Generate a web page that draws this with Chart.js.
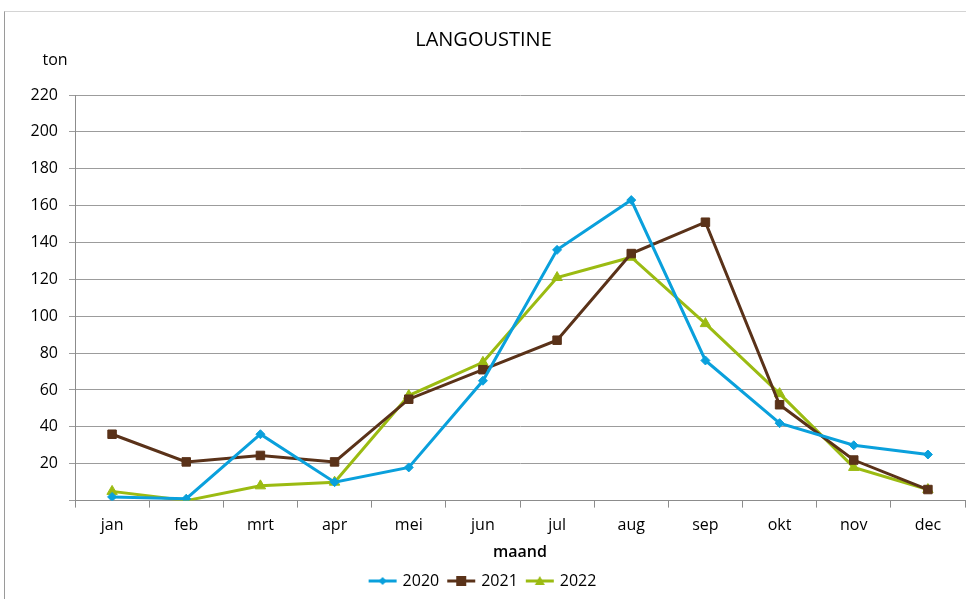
<!DOCTYPE html>
<html>
<head>
<meta charset="utf-8">
<script src="https://cdn.jsdelivr.net/npm/chart.js@4.4.0/dist/chart.umd.min.js"></script>
<style>
  html, body { margin: 0; padding: 0; background: #fff; overflow: hidden; }
  #kader { position: absolute; left: 4px; top: 11px; width: 1000px; height: 700px;
           border-left: 1px solid #9a9a9a; border-top: 1px solid #d4d4d4; }
  canvas { position: absolute; left: 0; top: 0; }
</style>
</head>
<body>
<div id="kader"></div>
<canvas id="grafiek" width="972" height="599"></canvas>
<script>
const maanden = ['jan', 'feb', 'mrt', 'apr', 'mei', 'jun', 'jul', 'aug', 'sep', 'okt', 'nov', 'dec'];
const jaren = ['2020', '2021', '2022'];
const ton2020 = [2, 1, 36, 10, 18, 65, 136, 163, 76, 42, 30, 25];
const ton2021 = [36, 21, 24.5, 21, 55, 71, 87, 134, 151, 52, 22, 6];
const ton2022 = [5, 0, 8, 10, 57, 75, 121, 132, 96, 58, 18, 6];
const yTicks = [0, 20, 40, 60, 80, 100, 120, 140, 160, 180, 200, 220];

const kleuren = ['#0aa0dc', '#5a3219', '#9bbb12'];
const vormen = ['rectRot', 'rect', 'triangle'];
const radii = [4.5, 6, 6];
const FONT = '"Open Sans", "Noto Sans", sans-serif';

// legend icon: line with marker in the middle
function legendIcoon(kleur, vorm) {
  const c = document.createElement('canvas');
  c.width = 30; c.height = 14;
  const g = c.getContext('2d');
  g.strokeStyle = kleur; g.fillStyle = kleur; g.lineWidth = 3;
  g.beginPath(); g.moveTo(1, 7); g.lineTo(29, 7); g.stroke();
  g.beginPath();
  if (vorm === 'rectRot') {
    g.moveTo(15, 3); g.lineTo(19, 7); g.lineTo(15, 11); g.lineTo(11, 7);
  } else if (vorm === 'rect') {
    g.rect(10, 2, 10, 10);
  } else {
    g.moveTo(15, 2); g.lineTo(20, 11); g.lineTo(10, 11);
  }
  g.closePath(); g.fill();
  return c;
}

const tonLabel = {
  id: 'tonLabel',
  afterDraw(chart) {
    const ctx = chart.ctx;
    ctx.save();
    ctx.font = '16px ' + FONT;
    ctx.fillStyle = '#000';
    ctx.textAlign = 'center';
    ctx.textBaseline = 'middle';
    ctx.fillText('ton', 55, chart.scales.y.top - 35);
    ctx.restore();
  }
};

const reeksen = [ton2020, ton2021, ton2022];

new Chart(document.getElementById('grafiek').getContext('2d'), {
  type: 'line',
  data: {
    labels: maanden,
    datasets: reeksen.map((d, i) => ({
      label: jaren[i],
      data: d,
      borderColor: kleuren[i],
      backgroundColor: kleuren[i],
      borderWidth: 3,
      pointStyle: vormen[i],
      pointRadius: radii[i],
      pointHoverRadius: radii[i],
      pointBorderWidth: 1,
      tension: 0,
      legendIcon: legendIcoon(kleuren[i], vormen[i])
    }))
  },
  options: {
    responsive: false,
    animation: false,
    devicePixelRatio: 1,
    layout: { padding: { top: 18, right: 5, bottom: 0, left: 0 } },
    plugins: {
      title: {
        display: true,
        text: 'LANGOUSTINE',
        color: '#000',
        font: { family: FONT, size: 20, weight: 'normal' },
        padding: { top: 10, bottom: 43 }
      },
      legend: {
        position: 'bottom',
        labels: {
          color: '#000',
          font: { family: FONT, size: 16 },
          usePointStyle: true,
          pointStyleWidth: 24,
          padding: 10,
          generateLabels(chart) {
            return chart.data.datasets.map((ds, i) => ({
              text: ds.label,
              pointStyle: ds.legendIcon,
              fillStyle: ds.borderColor,
              strokeStyle: ds.borderColor,
              lineWidth: 0,
              fontColor: '#000',
              datasetIndex: i
            }));
          }
        }
      },
      tooltip: { enabled: false }
    },
    scales: {
      x: {
        offset: true,
        grid: { display: true, drawOnChartArea: false, offset: true, tickLength: 7, color: '#8c8c8c' },
        border: { color: '#8c8c8c' },
        ticks: { color: '#000', font: { family: FONT, size: 16 }, padding: 8 },
        title: {
          display: true, text: 'maand', color: '#000',
          font: { family: FONT, size: 16, weight: '600' },
          padding: { top: 0, bottom: 1 }
        }
      },
      y: {
        min: 0, max: 220,
        afterFit(scale) { scale.width = 75; },
        afterBuildTicks(scale) { scale.ticks = yTicks.map(v => ({ value: v })); },
        grid: { color: '#9c9c9c', tickLength: 6, lineWidth: 1 },
        border: { color: '#8c8c8c' },
        ticks: {
          color: '#000', font: { family: FONT, size: 16 }, padding: 11,
          callback: v => (v === 0 ? '' : v)
        }
      }
    }
  },
  plugins: [tonLabel]
});
</script>
</body>
</html>
